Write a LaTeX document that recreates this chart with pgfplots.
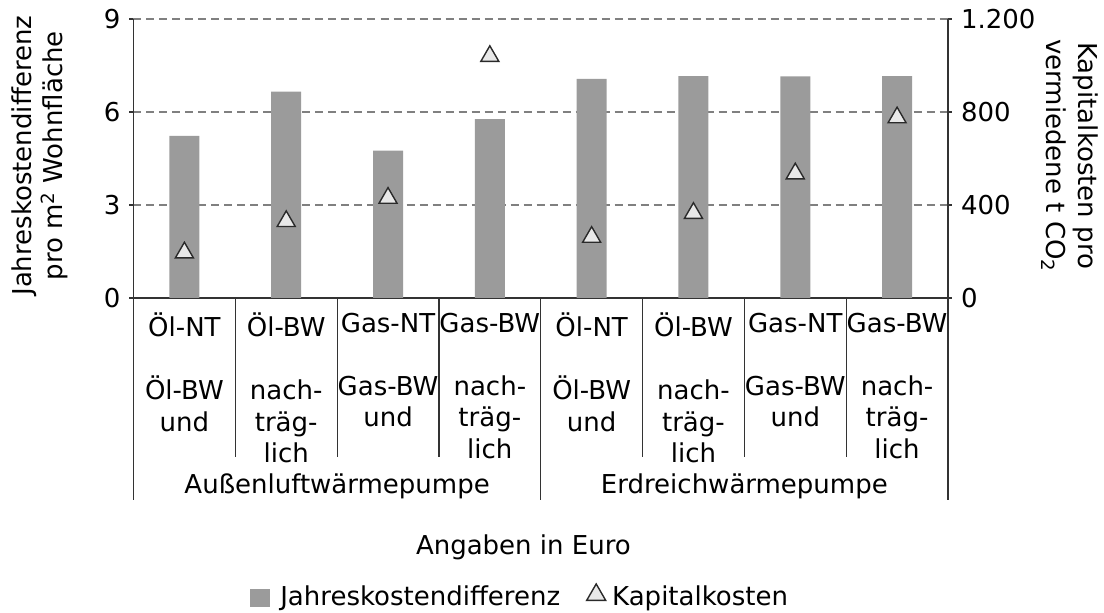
\documentclass[border=0pt]{standalone}
\usepackage{fontspec}
\setmainfont{DejaVu Sans}
\usepackage{pgfplots}
\pgfplotsset{compat=1.18}
\definecolor{bargray}{HTML}{9B9B9B}
\definecolor{trifill}{HTML}{E8E8E8}
\definecolor{tridraw}{HTML}{2A2A2A}
\definecolor{gridgray}{HTML}{808080}
\definecolor{axisgray}{HTML}{333333}
\begin{document}
\fontsize{13}{15.75}\selectfont
\begin{tikzpicture}
\pgfplotsset{
  common/.style={
    width=407.25pt, height=139.5pt, scale only axis,
    xmin=-0.5, xmax=7.5,
    clip=false,
    tick align=outside, major tick length=2pt,
    every tick label/.append style={font=\fontsize{13}{15.75}\selectfont},
    label style={font=\fontsize{13}{15.75}\selectfont},
    /pgf/number format/assume math mode=true,
    /pgf/number format/1000 sep={.},
    axis line style={axisgray, line width=0.6pt, -},
    tick style={axisgray, line width=0.6pt},
  }
}
\begin{axis}[common,
  axis x line*=bottom, axis y line*=left,
  ymin=0, ymax=9, ytick={0,3,6,9},
  ymajorgrids,
  grid style={gridgray, dash pattern=on 4pt off 2.5pt, line width=0.6pt},
  xtick=data,
  xticklabels={
    {Öl-NT\\[15.75pt]Öl-BW\\und},
    {Öl-BW\\[15.75pt]nach-\\träg-\\lich},
    {Gas-NT\\[15.75pt]Gas-BW\\und},
    {Gas-BW\\[15.75pt]nach-\\träg-\\lich},
    {Öl-NT\\[15.75pt]Öl-BW\\und},
    {Öl-BW\\[15.75pt]nach-\\träg-\\lich},
    {Gas-NT\\[15.75pt]Gas-BW\\und},
    {Gas-BW\\[15.75pt]nach-\\träg-\\lich}},
  xtick style={draw=none},
  xticklabel style={align=center, anchor=north, yshift=-1pt},
  ylabel={Jahreskostendifferenz\\pro m\textsuperscript{2} Wohnfläche},
  ylabel style={align=center, at={(axis description cs:-0.1148,0.51)}, anchor=center},
  legend style={at={(axis description cs:0.4760,-1.075)}, anchor=center,
    draw=none, fill=none, legend columns=-1,
    font=\fontsize{13}{15.75}\selectfont,
    /tikz/every even column/.append style={column sep=10pt}},
]
\addplot[ybar, bar width=15pt, fill=bargray, draw=none,
  legend image code/.code={\fill[bargray] (0pt,-4.5pt) rectangle (10pt,4.5pt); \path[draw=none, fill=none] (0pt,0pt) -- (13pt,0pt);}]
  coordinates {(0,5.23) (1,6.66) (2,4.75) (3,5.77) (4,7.07) (5,7.16) (6,7.15) (7,7.16)};
\addlegendentry{Jahreskostendifferenz}
\addlegendimage{legend image code/.code={\path[draw=none, fill=none] (0pt,0pt) -- (12pt,0pt); \path plot[only marks, mark=triangle*, mark size=5.5pt, mark options={draw=tridraw, fill=trifill, line width=0.7pt}] coordinates {(6pt,1.5pt)};}}
\addlegendentry{Kapitalkosten}
\draw[axisgray, line width=0.6pt] (axis cs:-0.5,0) -- (axis cs:-0.5,-6.52);
\draw[axisgray, line width=0.6pt] (axis cs:3.5,0) -- (axis cs:3.5,-6.52);
\draw[axisgray, line width=0.6pt] (axis cs:7.5,0) -- (axis cs:7.5,-6.52);
\draw[axisgray, line width=0.6pt] (axis cs:0.5,0) -- (axis cs:0.5,-5.13);
\draw[axisgray, line width=0.6pt] (axis cs:1.5,0) -- (axis cs:1.5,-5.13);
\draw[axisgray, line width=0.6pt] (axis cs:2.5,0) -- (axis cs:2.5,-5.13);
\draw[axisgray, line width=0.6pt] (axis cs:4.5,0) -- (axis cs:4.5,-5.13);
\draw[axisgray, line width=0.6pt] (axis cs:5.5,0) -- (axis cs:5.5,-5.13);
\draw[axisgray, line width=0.6pt] (axis cs:6.5,0) -- (axis cs:6.5,-5.13);
\node[anchor=base, font=\fontsize{13}{15.75}\selectfont] at (axis cs:1.5,-6.30) {Außenluftwärmepumpe};
\node[anchor=base, font=\fontsize{13}{15.75}\selectfont] at (axis cs:5.5,-6.30) {Erdreichwärmepumpe};
\node[anchor=base, font=\fontsize{13}{15.75}\selectfont] at (axis cs:3.33,-8.27) {Angaben in Euro};
\end{axis}
\begin{axis}[common,
  axis x line=none, axis y line*=right,
  ymin=0, ymax=1200, ytick={0,400,800,1200},
  ylabel={Kapitalkosten pro\\vermiedene t CO\textsubscript{2}},
  ylabel style={align=center, at={(axis description cs:1.1498,0.51)}, anchor=center, rotate=180},
]
\addplot[only marks, mark=triangle*, mark size=5.2pt,
  mark options={draw=tridraw, fill=trifill, line width=0.7pt}]
  coordinates {(0,195) (1,330) (2,430) (3,1040) (4,262) (5,365) (6,535) (7,776)};
\end{axis}
\pgfresetboundingbox
\useasboundingbox (-66.75pt,-157.5pt) rectangle (485.25pt,149pt);
\end{tikzpicture}
\end{document}
